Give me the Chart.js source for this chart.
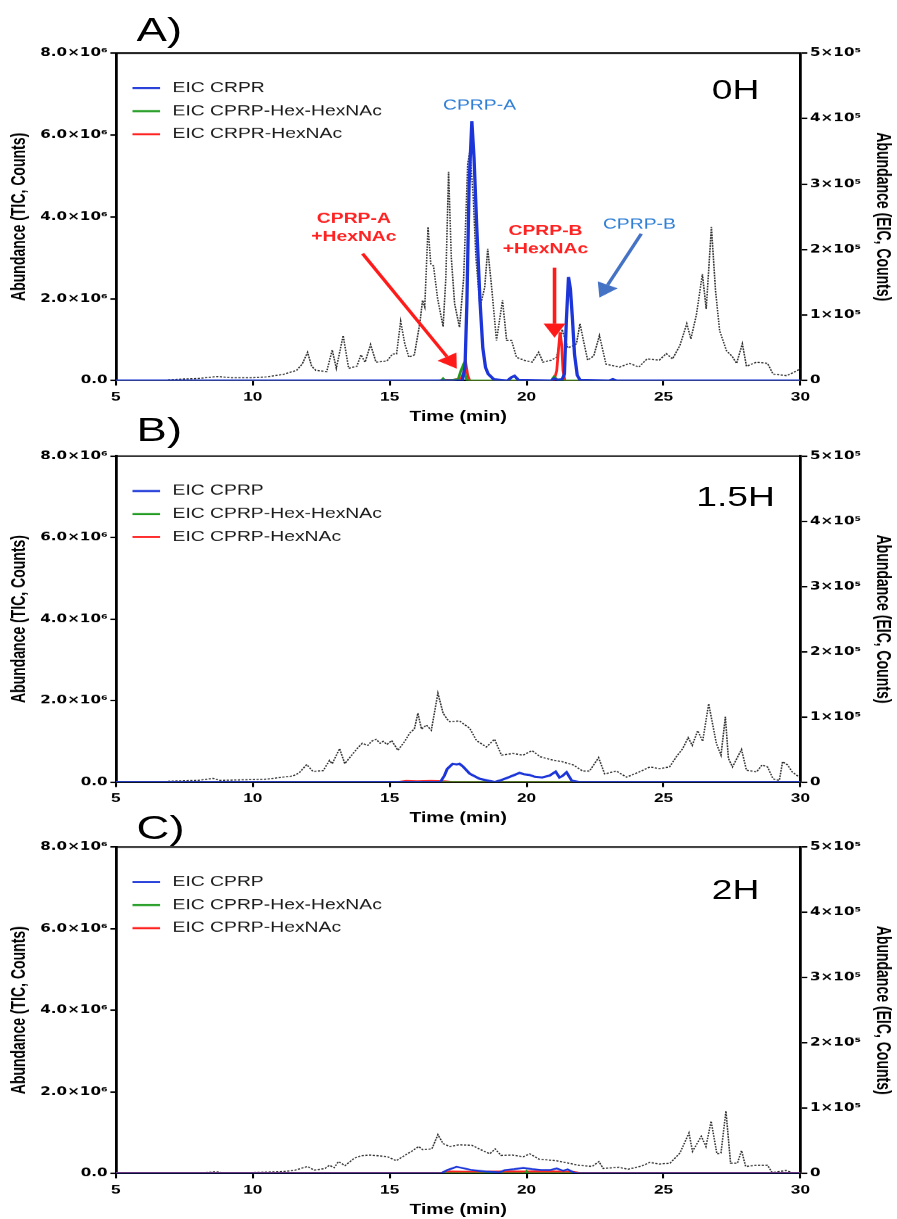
<!DOCTYPE html>
<html>
<head>
<meta charset="utf-8">
<script src="https://cdn.jsdelivr.net/npm/chart.js@4.4.0/dist/chart.umd.min.js"></script>
<style>
  body { margin: 0; background: #fff; width: 897px; height: 1219px; overflow: hidden; position: relative; }
  /* the original figure is stretched sideways, so the whole sheet is drawn narrow and scaled */
  #wrap { position: absolute; left: 0; top: 0; width: 650px; height: 1219px; transform: scaleX(1.38); transform-origin: 0 0;
          font-family: "Liberation Sans", Arial, sans-serif; color: #000; }
  .panel { position: absolute; left: 0; width: 650px; }
  .tag { position: absolute; left: 99px; font-size: 33px; line-height: 33px; }
  .hours { position: absolute; left: 483px; width: 100px; text-align: center; font-size: 27px; line-height: 27px; }
</style>
</head>
<body>
<div id="wrap">
  <div class="panel" style="top:0;height:426px"><canvas id="chartA"></canvas></div>
  <div class="panel" style="top:420px;height:408px"><canvas id="chartB"></canvas></div>
  <div class="panel" style="top:828px;height:391px"><canvas id="chartC"></canvas></div>
  <div class="tag" style="top:13px">A)</div>
  <div class="tag" style="top:413px">B)</div>
  <div class="tag" style="top:811px">C)</div>
  <div class="hours" style="top:77px">0H</div>
  <div class="hours" style="top:484px">1.5H</div>
  <div class="hours" style="top:877px">2H</div>
</div>
<script>
// axis ticks
const xTicks = [5, 10, 15, 20, 25, 30];
const ticTicks = [0, 2, 4, 6, 8];        // x10^6 counts
const eicTicks = [0, 1, 2, 3, 4, 5];     // x10^5 counts

// --- Panel A (0H) --- time in min, TIC in 1e6, EIC in 1e5
const ticA_t = [6.9,7.5,8.0,8.7,9.2,10.0,10.5,11.1,11.6,11.8,12.0,12.15,12.3,12.7,12.9,13.05,13.3,13.5,13.8,13.95,14.1,14.3,14.5,14.9,15.1,15.25,15.4,15.55,15.7,15.9,16.1,16.2,16.28,16.4,16.5,16.6,16.75,16.95,17.05,17.15,17.25,17.37,17.55,17.7,17.85,17.93,18.05,18.15,18.3,18.47,18.58,18.72,18.9,19.12,19.27,19.45,19.63,19.9,20.2,20.44,20.6,20.9,21.1,21.3,21.5,21.7,21.82,21.95,22.1,22.23,22.45,22.66,22.9,23.4,23.76,24.1,24.4,24.85,25.1,25.33,25.6,25.85,26.0,26.2,26.42,26.56,26.75,26.9,27.05,27.3,27.5,27.67,27.88,28.03,28.4,28.8,29.0,29.5,29.9,30.0];
const ticA = [0.02,0.04,0.05,0.1,0.07,0.07,0.09,0.15,0.25,0.4,0.69,0.35,0.25,0.22,0.75,0.3,1.1,0.3,0.35,0.63,0.45,0.88,0.45,0.48,0.65,0.65,1.45,0.9,0.57,0.63,1.4,1.96,1.8,3.75,2.85,2.8,2.0,1.32,2.5,5.1,3.0,1.88,1.3,2.5,5.3,5.6,4.5,3.0,1.8,2.28,3.22,2.3,0.98,1.96,0.98,0.98,0.57,0.5,0.45,0.69,0.45,0.5,0.57,1.25,0.8,0.85,0.9,1.39,0.9,0.5,0.6,1.1,0.4,0.33,0.42,0.33,0.53,0.5,0.66,0.53,0.86,1.39,1.02,1.6,2.6,1.75,3.75,2.2,1.22,0.73,0.6,0.42,0.9,0.35,0.45,0.42,0.16,0.12,0.25,0.3];
const cprpA_t = [5,17.65,17.75,17.82,17.9,18.0,18.08,18.18,18.3,18.4,18.5,18.6,18.8,19.3,19.45,19.56,19.7,20.9,21.0,21.1,21.3,21.38,21.45,21.53,21.6,21.67,21.75,21.85,21.95,23.0,23.15,23.3,30];
const cprpA = [0,0,0.2,1.2,3.0,3.96,3.4,2.34,1.2,0.5,0.2,0.1,0.02,0,0.05,0.07,0.01,0,0.03,0.01,0.02,0.1,0.9,1.58,1.4,0.97,0.4,0.08,0.01,0,0.02,0,0];
const hexHexA_t = [5,16.88,16.95,17.02,17.5,17.6,17.68,17.76,17.82,18.0,20.9,21.0,21.1,21.2,30];
const hexHexA = [0,0,0.03,0,0.02,0.15,0.23,0.08,0.01,0,0,0.06,0.02,0,0];
const hexA_t = [5,16.8,17.0,17.3,17.6,17.7,17.78,17.85,17.92,21.0,21.1,21.17,21.22,21.28,21.33,21.4,30];
const hexA = [0,0,0.01,0.01,0.03,0.12,0.26,0.08,0,0,0.15,0.5,0.74,0.55,0.15,0,0];

// --- Panel B (1.5H) ---
const ticB_t = [6.9,8.0,8.55,8.8,10.0,10.5,11.1,11.47,11.7,11.97,12.2,12.57,12.8,12.9,13.17,13.36,13.66,13.85,14.0,14.2,14.34,14.5,14.65,14.76,14.9,15.07,15.3,15.55,15.73,15.9,16.03,16.16,16.34,16.52,16.76,16.95,17.1,17.2,17.55,17.92,18.17,18.53,18.83,19.08,19.5,19.87,20.2,20.5,20.96,21.3,21.7,22.05,22.3,22.63,22.85,23.28,23.65,24.12,24.5,24.85,25.22,25.47,25.7,25.9,26.05,26.25,26.43,26.65,26.93,27.1,27.26,27.37,27.52,27.85,28.03,28.4,28.6,28.8,29.0,29.23,29.35,29.53,29.7,29.96];
const ticB = [0.02,0.04,0.09,0.04,0.06,0.07,0.12,0.15,0.23,0.43,0.26,0.28,0.53,0.45,0.82,0.45,0.7,0.85,0.95,0.9,1.0,1.05,0.95,1.0,0.92,1.02,0.78,1.0,1.2,1.3,1.69,1.3,1.4,1.27,2.18,1.69,1.54,1.48,1.5,1.32,1.02,0.86,1.05,0.66,0.7,0.66,0.77,0.62,0.54,0.5,0.42,0.27,0.27,0.6,0.2,0.27,0.12,0.25,0.37,0.33,0.37,0.62,0.82,1.09,0.9,1.26,1.0,1.92,0.95,0.66,1.6,0.58,0.37,0.8,0.29,0.25,0.42,0.37,0.08,0.04,0.5,0.42,0.25,0.12];
const cprpB_t = [5,16.85,17.0,17.1,17.3,17.45,17.55,17.67,17.92,18.05,18.28,18.6,18.83,19.0,19.27,19.5,19.74,19.9,20.1,20.3,20.57,20.84,21.06,21.2,21.3,21.46,21.65,21.9,30];
const cprpB = [0,0,0.1,0.2,0.28,0.27,0.28,0.24,0.13,0.1,0.05,0.02,0,0.02,0.06,0.1,0.14,0.12,0.11,0.08,0.07,0.1,0.16,0.07,0.09,0.15,0.02,0,0];
const hexHexB_t = [5,30];
const hexHexB = [0,0];
const hexB_t = [5,15.3,15.6,16.0,16.5,17.0,17.3,30];
const hexB = [0,0,0.015,0.01,0.015,0.01,0,0];

// --- Panel C (2H) ---
const ticC_t = [8.0,8.66,9.0,9.7,11.0,11.5,12.0,12.24,12.64,12.8,12.97,13.13,13.37,13.7,13.94,14.27,14.6,14.92,15.24,15.57,15.8,16.06,16.2,16.54,16.76,16.95,17.2,17.52,18.0,18.33,18.66,18.85,19.07,19.47,19.88,20.12,20.45,21.1,21.9,22.4,22.64,22.8,23.37,23.7,24.2,24.5,24.84,25.24,25.6,25.93,26.06,26.38,26.55,26.74,26.95,27.1,27.28,27.45,27.7,27.85,28.0,28.4,28.8,28.97,29.47,29.7,30];
const ticC = [0.01,0.04,0.01,0.02,0.04,0.07,0.17,0.08,0.12,0.2,0.14,0.29,0.19,0.37,0.43,0.45,0.43,0.41,0.31,0.45,0.54,0.66,0.58,0.6,0.95,0.73,0.66,0.7,0.69,0.58,0.48,0.6,0.44,0.45,0.41,0.48,0.35,0.31,0.2,0.17,0.29,0.12,0.15,0.1,0.18,0.27,0.23,0.25,0.5,0.99,0.54,0.91,0.66,1.28,0.48,0.5,1.53,0.25,0.25,0.56,0.17,0.2,0.2,0.02,0.07,0.02,0.02];
const cprpC_t = [5,16.87,17.1,17.44,17.68,18.0,18.5,19.0,19.2,19.55,19.88,20.2,20.53,20.85,21.1,21.34,21.5,21.75,21.9,30];
const cprpC = [0,0,0.05,0.1,0.08,0.05,0.03,0.015,0.05,0.065,0.085,0.065,0.05,0.05,0.075,0.04,0.06,0.01,0,0];
const hexHexC_t = [5,19.95,20.0,20.05,30];
const hexHexC = [0,0,0.03,0,0];
const hexC_t = [5,16.9,17.2,18.0,19.0,20.0,21.0,21.7,21.9,30];
const hexC = [0,0,0.02,0.015,0.02,0.02,0.02,0.015,0,0];

// legend labels (panel A spells it CRPR)
const legendA = ['EIC CRPR', 'EIC CPRP-Hex-HexNAc', 'EIC CRPR-HexNAc'];
const legendBC = ['EIC CPRP', 'EIC CPRP-Hex-HexNAc', 'EIC CPRP-HexNAc'];

// callouts in panel A, placed in (time, TIC) units
const notesA = [
  { text: ['CPRP-A'], t: 18.28, v: 6.72, color: '#2f7fd6', bold: false },
  { text: ['CPRP-A', '+HexNAc'], t: 13.69, v: 3.94, color: '#ff2222', bold: true },
  { text: ['CPRP-B', '+HexNAc'], t: 20.69, v: 3.64, color: '#ff2222', bold: true },
  { text: ['CPRP-B'], t: 24.12, v: 3.81, color: '#2f7fd6', bold: false }
];
const arrowsA = [
  { from: [14.01, 3.1], to: [17.45, 0.29], color: '#ff1a1a' },
  { from: [21.02, 2.76], to: [21.02, 1.05], color: '#ff1a1a' },
  { from: [24.19, 3.59], to: [22.66, 2.03], color: '#4472c4' }
];

const BLUE = '#1b35d8', GREEN = '#1f9a1f', RED = '#ff2020', TIC = '#2e2e2e';
const FONT = '"Liberation Sans", Arial, sans-serif';

function drawArrow(ctx, x1, y1, x2, y2, color) {
  const ang = Math.atan2(y2 - y1, x2 - x1);
  const head = 14, half = 8;
  const bx = x2 - head * Math.cos(ang), by = y2 - head * Math.sin(ang);
  ctx.strokeStyle = color;
  ctx.lineWidth = 2.6;
  ctx.beginPath(); ctx.moveTo(x1, y1); ctx.lineTo(bx, by); ctx.stroke();
  ctx.fillStyle = color;
  ctx.beginPath();
  ctx.moveTo(x2, y2);
  ctx.lineTo(bx + half * Math.sin(ang), by - half * Math.cos(ang));
  ctx.lineTo(bx - half * Math.sin(ang), by + half * Math.cos(ang));
  ctx.closePath(); ctx.fill();
}

// frame top line, in-plot legend, callouts
const panelDecor = {
  id: 'panelDecor',
  afterDatasetsDraw(chart, args, opts) {
    const { ctx, chartArea: a, scales } = chart;
    ctx.save();
    ctx.strokeStyle = '#000';
    ctx.lineWidth = 1.5;
    ctx.beginPath(); ctx.moveTo(a.left, a.top); ctx.lineTo(a.right, a.top); ctx.stroke();

    const colors = [BLUE, GREEN, RED];
    ctx.font = '14px ' + FONT;
    ctx.textBaseline = 'middle';
    ctx.textAlign = 'left';
    opts.legend.forEach((label, i) => {
      const y = a.top + 35 + i * 23;
      ctx.strokeStyle = colors[i];
      ctx.lineWidth = 2;
      ctx.beginPath(); ctx.moveTo(a.left + 12, y); ctx.lineTo(a.left + 32, y); ctx.stroke();
      ctx.fillStyle = '#1a1a1a';
      ctx.fillText(label, a.left + 41, y);
    });

    (opts.arrows || []).forEach(ar => {
      drawArrow(ctx, scales.x.getPixelForValue(ar.from[0]), scales.y.getPixelForValue(ar.from[1]),
        scales.x.getPixelForValue(ar.to[0]), scales.y.getPixelForValue(ar.to[1]), ar.color);
    });
    ctx.textAlign = 'center';
    (opts.notes || []).forEach(n => {
      ctx.font = (n.bold ? 'bold ' : '') + '14px ' + FONT;
      ctx.fillStyle = n.color;
      const x = scales.x.getPixelForValue(n.t);
      const y = scales.y.getPixelForValue(n.v);
      n.text.forEach((line, i) => ctx.fillText(line, x, y + i * 18));
    });
    ctx.restore();
  }
};

function series(t, v, color, width, axis, order, dash) {
  return {
    data: t.map((x, i) => ({ x: x, y: v[i] })),
    borderColor: color,
    borderWidth: width,
    borderDash: dash || [],
    yAxisID: axis,
    order: order,
    pointRadius: 0,
    tension: 0,
    fill: false
  };
}

function buildPanel(id, p) {
  const xTickFont = { family: FONT, size: 12.5, weight: 'bold' };
  // DejaVu carries readable superscript digits for the x10^n labels
  const yTickFont = { family: '"DejaVu Sans", ' + FONT, size: 11, weight: 'bold' };
  const titleFont = { family: FONT, size: 14, weight: 'bold' };
  return new Chart(document.getElementById(id), {
    type: 'line',
    data: {
      datasets: [
        series(p.blueT, p.blue, BLUE, p.blueW, 'y1', 0),
        series(p.greenT, p.green, GREEN, 2, 'y1', 1),
        series(p.redT, p.red, RED, p.redW, 'y1', 2),
        series(p.ticT, p.tic, TIC, 1.15, 'y', 3, [1.6, 1.1])
      ]
    },
    options: {
      responsive: true,
      maintainAspectRatio: false,
      animation: false,
      devicePixelRatio: 1.38,
      layout: { padding: { top: p.padTop, left: 0, right: 0, bottom: 0 } },
      plugins: {
        legend: { display: false },
        tooltip: { enabled: false },
        panelDecor: { legend: p.legend, notes: p.notes, arrows: p.arrows }
      },
      scales: {
        x: {
          type: 'linear', min: 5, max: 30,
          afterBuildTicks: s => { s.ticks = xTicks.map(v => ({ value: v })); },
          afterFit: s => { s.height = 46; },
          grid: { drawOnChartArea: false, tickLength: 5, color: '#000', lineWidth: 1.5 },
          border: { color: '#000', width: 1.5 },
          ticks: { color: '#000', font: xTickFont, padding: 4, maxRotation: 0 },
          title: { display: true, text: 'Time (min)', color: '#000', font: titleFont, padding: { top: 0, bottom: 1 } }
        },
        y: {
          position: 'left', min: 0, max: 8,
          afterBuildTicks: s => { s.ticks = ticTicks.map(v => ({ value: v })); },
          afterFit: s => { s.width = 84; },
          grid: { drawOnChartArea: false, tickLength: 4, color: '#000', lineWidth: 1.5 },
          border: { color: '#000', width: 2 },
          ticks: { color: '#000', font: yTickFont, padding: 2, callback: v => v === 0 ? '0.0' : v.toFixed(1) + '×10⁶' },
          title: { display: true, text: 'Abundance (TIC, Counts)', color: '#000', font: titleFont, padding: { top: 6, bottom: 0 } }
        },
        y1: {
          position: 'right', min: 0, max: 5,
          afterBuildTicks: s => { s.ticks = eicTicks.map(v => ({ value: v })); },
          afterFit: s => { s.width = 70; },
          grid: { drawOnChartArea: false, tickLength: 5, color: '#000', lineWidth: 1.5 },
          border: { color: '#000', width: 2 },
          ticks: { color: '#000', font: yTickFont, padding: 2, callback: v => v === 0 ? '0' : v + '×10⁵' },
          title: { display: true, text: 'Abundance (EIC, Counts)', color: '#000', font: titleFont, padding: { top: 2, bottom: 0 } }
        }
      }
    },
    plugins: [panelDecor]
  });
}

buildPanel('chartA', {
  padTop: 53, legend: legendA, notes: notesA, arrows: arrowsA,
  ticT: ticA_t, tic: ticA, blueT: cprpA_t, blue: cprpA, blueW: 2.4,
  greenT: hexHexA_t, green: hexHexA, redT: hexA_t, red: hexA, redW: 2
});
buildPanel('chartB', {
  padTop: 36, legend: legendBC,
  ticT: ticB_t, tic: ticB, blueT: cprpB_t, blue: cprpB, blueW: 2.2,
  greenT: hexHexB_t, green: hexHexB, redT: hexB_t, red: hexB, redW: 2
});
buildPanel('chartC', {
  padTop: 19, legend: legendBC,
  ticT: ticC_t, tic: ticC, blueT: cprpC_t, blue: cprpC, blueW: 1.8,
  greenT: hexHexC_t, green: hexHexC, redT: hexC_t, red: hexC, redW: 3
});
</script>
</body>
</html>
